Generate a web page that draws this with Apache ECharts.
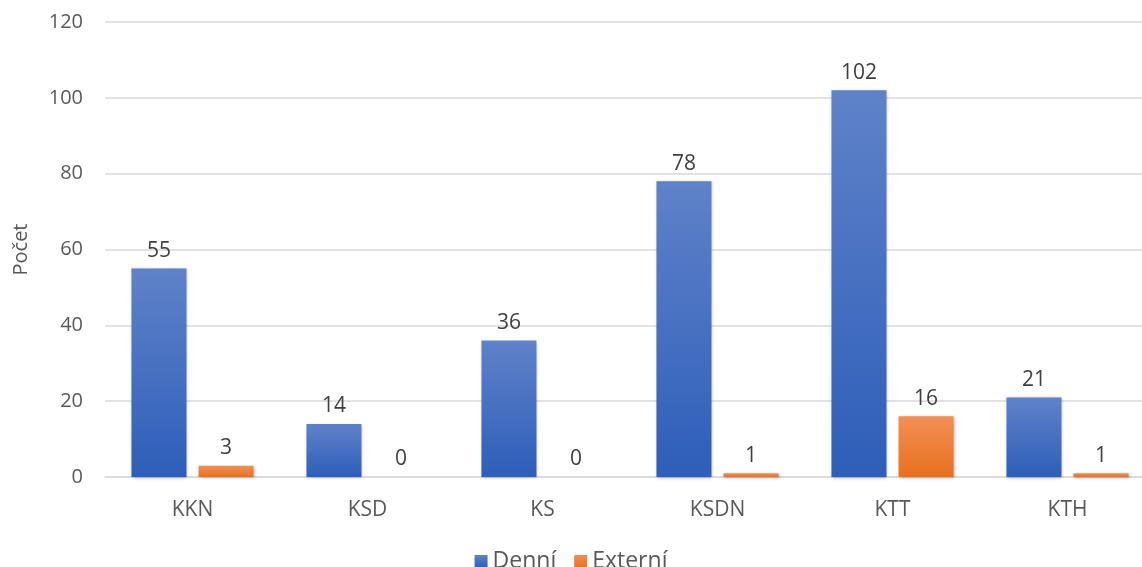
<!DOCTYPE html>
<html><head><meta charset="utf-8">
<script src="https://cdn.jsdelivr.net/npm/echarts@6/dist/echarts.min.js"></script>
<style>html,body{margin:0;padding:0;background:#fff}#c{width:1142px;height:567px}</style>
</head><body><div id="c"></div>
<script>
const categories = ['KKN', 'KSD', 'KS', 'KSDN', 'KTT', 'KTH'];
const denni = [55, 14, 36, 78, 102, 21];
const externi = [3, 0, 0, 1, 16, 1];
const seriesNames = ['Denní', 'Externí'];
const yAxisName = 'Počet';

const font = '"Open Sans", "Noto Sans", sans-serif';
const grad = (a, b) => new echarts.graphic.LinearGradient(0, 0, 0, 1, [{offset: 0, color: a}, {offset: 1, color: b}]);
const chart = echarts.init(document.getElementById('c'));
chart.setOption({
  animation: false,
  textStyle: {fontFamily: font},
  grid: {left: 105, right: -13, top: 22, bottom: 90, outerBoundsMode: 'none', containLabel: false},
  legend: {
    data: seriesNames, bottom: -11, left: 'center', itemWidth: 13, itemHeight: 13, itemGap: 18,
    icon: 'rect',
    textStyle: {fontSize: 23, color: '#595959', fontFamily: font}
  },
  xAxis: {
    type: 'category', data: categories,
    axisLine: {lineStyle: {color: '#d9d9d9', width: 1.5}},
    axisTick: {show: false},
    axisLabel: {color: '#595959', fontSize: 21, margin: 23, fontFamily: font}
  },
  yAxis: {
    type: 'value', min: 0, max: 120, interval: 20,
    name: yAxisName, nameLocation: 'middle', nameGap: 74, nameRotate: 90,
    nameTextStyle: {color: '#595959', fontSize: 20, fontFamily: font},
    axisLine: {show: false}, axisTick: {show: false},
    axisLabel: {color: '#595959', fontSize: 20, margin: 22, fontFamily: font},
    splitLine: {lineStyle: {color: '#d9d9d9', width: 1.5}}
  },
  series: [
    {
      name: seriesNames[0], type: 'bar', data: denni, barWidth: 55, barGap: '22%',
      itemStyle: {color: grad('#5f82c9', '#2e5eb9'), shadowBlur: 3, shadowColor: 'rgba(0,0,0,0.3)', shadowOffsetX: 1, shadowOffsetY: 1},
      label: {show: true, position: 'top', distance: 7, color: '#404040', fontSize: 21, fontFamily: font}
    },
    {
      name: seriesNames[1], type: 'bar', data: externi, barWidth: 55,
      itemStyle: {color: grad('#f28f55', '#e8701f'), shadowBlur: 3, shadowColor: 'rgba(0,0,0,0.3)', shadowOffsetX: 1, shadowOffsetY: 1},
      label: {show: true, position: 'top', distance: 7, color: '#404040', fontSize: 21, fontFamily: font}
    }
  ]
});
</script></body></html>
